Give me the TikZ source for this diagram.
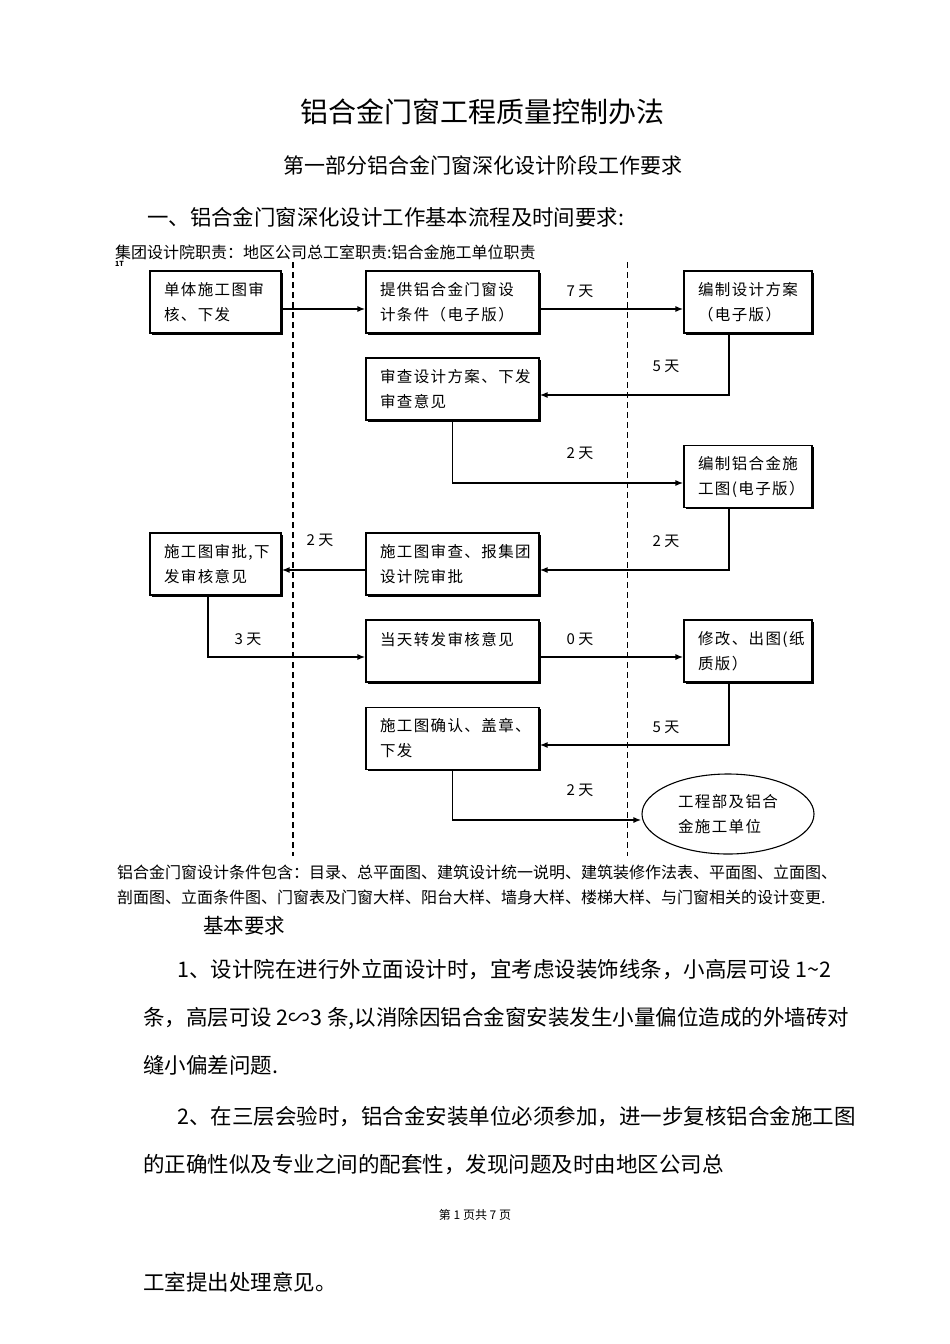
\documentclass[tikz,border=0pt]{standalone}
\usepackage{fontspec}
\setmainfont{Noto Sans CJK SC}
\newfontfamily\boxfont[LetterSpace=9]{Noto Sans CJK SC}
\usetikzlibrary{arrows.meta,shadows,shapes.geometric,calc}
\begin{document}
\begin{tikzpicture}[x=1pt,y=-1pt,
  box/.style={draw, line width=1.1pt, fill=white, rectangle, align=left,
    inner xsep=14pt, inner ysep=0pt, minimum height=62pt,
    font=\boxfont\fontsize{15.5}{25}\selectfont,
    drop shadow={shadow xshift=1.6pt, shadow yshift=-1.6pt, opacity=1, fill=black}},
  arr/.style={line width=1.6pt, -{Latex[length=8pt,width=6pt]}},
  lab/.style={font=\fontsize{15}{18}\selectfont, inner sep=0pt},
  txt/.style={anchor=west, inner sep=0pt},
  body/.style={txt, font=\fontsize{21.5}{24}\selectfont},
  small/.style={txt, font=\fontsize{16}{20}\selectfont},
  ]
\useasboundingbox[fill=white] (0,0) rectangle (950,1344);

% titles
\node[font=\fontsize{28}{32}\selectfont, inner sep=0pt] (title) at (482,112) {铝合金门窗工程质量控制办法};
\node[font=\fontsize{21}{24}\selectfont, inner sep=0pt] (sub) at (483,165) {第一部分铝合金门窗深化设计阶段工作要求};
\node[txt, font=\fontsize{21.4}{24}\selectfont] (head) at (147,217) {一、铝合金门窗深化设计工作基本流程及时间要求:};
\node[txt, font=\fontsize{16}{20}\selectfont] (roles) at (115,252) {集团设计院职责：地区公司总工室职责:铝合金施工单位职责};
\node[txt, font=\fontsize{7}{8}\selectfont\bfseries] (oneT) at (115,264) {1T};

% lane separators
\coordinate (dlt) at (293,262);
\coordinate (dlb) at (293,856);
\coordinate (drt) at (627,262);
\coordinate (drb) at (627,856);
\draw[line width=2.2pt, dash pattern=on 6pt off 4pt] (dlt) -- (dlb);
\draw[line width=0.8pt, dash pattern=on 6pt off 4pt] (drt) -- (drb);

% boxes
\node[box, text width=103pt] (A) at (215.5,302) {单体施工图审\\核、下发};
\node[box, text width=145pt] (B) at (452.5,302) {提供铝合金门窗设\\计条件（电子版）};
\node[box, text width=100pt] (C) at (748,302) {编制设计方案\\（电子版）};
\node[box, text width=145pt] (D) at (452.5,389) {审查设计方案、下发\\审查意见};
\node[box, text width=100pt] (E) at (748,476.5) {编制铝合金施\\工图(电子版）};
\node[box, text width=103pt] (F) at (215.5,564) {施工图审批,下\\发审核意见};
\node[box, text width=145pt] (G) at (452.5,564) {施工图审查、报集团\\设计院审批};
\node[box, text width=145pt] (H) at (452.5,651) {当天转发审核意见\\\mbox{}};
\node[box, text width=100pt] (I) at (748,651) {修改、出图(纸\\质版）};
\node[box, text width=145pt] (J) at (452.5,738.5) {施工图确认、盖章、\\下发};
\node[draw, ellipse, line width=1.1pt, fill=white, minimum width=172pt, minimum height=80pt,
  align=left, font=\boxfont\fontsize{15.5}{25}\selectfont, inner sep=0pt] (K) at (728,814) {工程部及铝合\\金施工单位};

% connectors
\draw[arr] ([yshift=-7pt]A.east) -- ([yshift=-7pt]B.west);
\draw[arr] ([yshift=-7pt]B.east) -- ([yshift=-7pt]C.west);
\draw[arr] ([xshift=-19pt]C.south) |- ([yshift=-6pt]D.east);
\draw[arr] (D.south) |- ([yshift=-6.5pt]E.west);
\draw[arr] ([xshift=-19pt]E.south) |- ([yshift=-6pt]G.east);
\draw[arr] ([yshift=-6pt]G.west) -- ([yshift=-6pt]F.east);
\draw[arr] ([xshift=-7.5pt]F.south) |- ([yshift=-6pt]H.west);
\draw[arr] ([yshift=-6pt]H.east) -- ([yshift=-6pt]I.west);
\draw[arr] ([xshift=-19pt]I.south) |- ([yshift=-6.5pt]J.east);
\draw[arr] (J.south) |- ([yshift=-6pt]K.west);

% day labels
\node[lab] (l1) at (580,291) {7 天};
\node[lab] (l2) at (666,366) {5 天};
\node[lab] (l3) at (580,453) {2 天};
\node[lab] (l4) at (666,541) {2 天};
\node[lab] (l5) at (320,540) {2 天};
\node[lab] (l6) at (248,639) {3 天};
\node[lab] (l7) at (580,639) {0 天};
\node[lab] (l8) at (666,727) {5 天};
\node[lab] (l9) at (580,790) {2 天};

% notes
\node[small] (n1) at (117,872) {铝合金门窗设计条件包含：目录、总平面图、建筑设计统一说明、建筑装修作法表、平面图、立面图、};
\node[small] (n2) at (117,897) {剖面图、立面条件图、门窗表及门窗大样、阳台大样、墙身大样、楼梯大样、与门窗相关的设计变更.};
\node[txt, font=\fontsize{20.5}{24}\selectfont] (req) at (203,926) {基本要求};

\node[body] (p1) at (177,970) {1、设计院在进行外立面设计时，宜考虑设装饰线条，小高层可设 1\textasciitilde 2};
\node[body] (p2) at (143,1018) {条，高层可设 2∽3 条,以消除因铝合金窗安装发生小量偏位造成的外墙砖对};
\node[body] (p3) at (143,1065) {缝小偏差问题.};
\node[body] (p4) at (177,1117) {2、在三层会验时，铝合金安装单位必须参加，进一步复核铝合金施工图};
\node[body] (p5) at (143,1165) {的正确性似及专业之间的配套性，发现问题及时由地区公司总};
\node[font=\fontsize{12}{14}\selectfont, inner sep=0pt] (page) at (475,1215) {第 1 页共 7 页};
\node[body] (p6) at (143,1282) {工室提出处理意见。};
\end{tikzpicture}
\end{document}
